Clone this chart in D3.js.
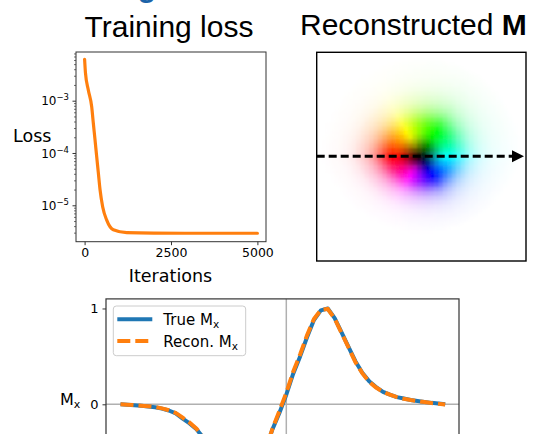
<!DOCTYPE html>
<html><head><meta charset="utf-8">
<script src="https://cdn.jsdelivr.net/npm/d3@7"></script>
<style>body{margin:0;background:#fff} svg{display:block}</style>
</head><body>
<svg id="c" width="538" height="434"></svg>
<script>
// ---------------- data ----------------
const lossIterations = [0, 25, 107, 205, 252, 301, 350, 397, 446, 524, 640, 831, 1219, 2000, 3000, 4000, 5000];
const lossValues = [6.2e-3, 3.4e-3, 1.6e-3, 7.7e-4, 3.75e-4, 1.8e-4, 8.5e-5, 4.2e-5, 2.0e-5, 9.3e-6, 5.2e-6, 3.4e-6, 3.0e-6, 2.93e-6, 2.92e-6, 2.92e-6, 2.92e-6];
const lossXTicks = [0, 2500, 5000];
const lossYTicks = [1e-3, 1e-4, 1e-5];
const lossYTickExps = ["\u22123", "\u22124", "\u22125"];

const profileIndex = d3.range(-24, 24);
const mxTrue = [0, -0.005, -0.01, -0.015, -0.022, -0.03, -0.045, -0.065, -0.095, -0.15, -0.20, -0.26,
  -0.35, -0.47, -0.62, -0.78, -0.92, -1.0, -0.97, -0.85, -0.68, -0.47, -0.26, -0.09,
  0.10, 0.32, 0.50, 0.70, 0.88, 0.98, 1.0, 0.90, 0.75, 0.60, 0.45, 0.33,
  0.24, 0.18, 0.13, 0.10, 0.075, 0.06, 0.045, 0.035, 0.025, 0.015, 0.008, 0.0];
const mxRecon = [0.0, -0.004, -0.008, -0.014, -0.02, -0.028, -0.042, -0.062, -0.09, -0.14, -0.19, -0.255,
  -0.345, -0.465, -0.615, -0.775, -0.915, -0.995, -0.97, -0.855, -0.685, -0.475, -0.255, -0.07,
  0.12, 0.34, 0.52, 0.72, 0.89, 0.985, 0.995, 0.895, 0.745, 0.595, 0.44, 0.325,
  0.235, 0.175, 0.13, 0.1, 0.075, 0.058, 0.044, 0.034, 0.024, 0.014, 0.006, -0.002];
const mxYTicks = [0, 1];
const legendLabels = ["True M", "Recon. M"];

// ---------------- drawing ----------------
const svg = d3.select("#c");
const FS = "'DejaVu Sans', sans-serif";
const TF = "'Liberation Sans', Arial, sans-serif";
const BLUE = "#1f77b4", ORANGE = "#ff7f0e";

// cropped glyph from a heading above
svg.append("text").attr("x", 147).attr("y", -3.5).attr("text-anchor", "middle")
  .attr("font-family", TF).attr("font-weight", "bold").attr("font-size", 30)
  .attr("fill", "#1c63a8").text("g");

// titles
svg.append("text").attr("x", 169).attr("y", 36.5).attr("text-anchor", "middle")
  .attr("font-family", TF).attr("font-size", 30).attr("fill", "#000").text("Training loss");
const t2 = svg.append("text").attr("x", 300).attr("y", 35)
  .attr("font-family", TF).attr("font-size", 30).attr("fill", "#000");
t2.append("tspan").text("Reconstructed ");
t2.append("tspan").attr("font-weight", "bold").text("M");

// ---- loss panel ----
const lx = d3.scaleLinear().domain([0, 5000]).range([84.6, 257.4]);
const ly = d3.scaleLog().domain([Math.pow(10, -5.696), Math.pow(10, -2.069)]).range([241.7, 52]);
const L = {x0: 76, x1: 266, y0: 52, y1: 241.7};

svg.append("clipPath").attr("id", "lclip").append("rect")
  .attr("x", L.x0).attr("y", L.y0).attr("width", L.x1 - L.x0).attr("height", L.y1 - L.y0);
svg.append("path").datum(lossIterations.map((d, i) => [d, lossValues[i]]))
  .attr("clip-path", "url(#lclip)")
  .attr("fill", "none").attr("stroke", ORANGE).attr("stroke-width", 3.2)
  .attr("stroke-linejoin", "round").attr("stroke-linecap", "round")
  .attr("d", d3.line().x(d => lx(d[0])).y(d => ly(d[1])).curve(d3.curveMonotoneX));

svg.append("rect").attr("x", L.x0).attr("y", L.y0).attr("width", L.x1 - L.x0).attr("height", L.y1 - L.y0)
  .attr("fill", "none").attr("stroke", "#333").attr("stroke-width", 1);

// x axis
const gx = svg.append("g").attr("transform", `translate(0,${L.y1})`)
  .call(d3.axisBottom(lx).tickValues(lossXTicks).tickSize(3.5).tickPadding(3).tickFormat(d3.format("d")));
gx.select(".domain").remove();
gx.selectAll("line").attr("stroke", "#333");
gx.selectAll("text").attr("font-family", FS).attr("font-size", 12.5).attr("fill", "#000");

// y axis major/minor
const minor = [];
for (let k = -6; k <= -2; k++) for (let d = 2; d <= 9; d++) {
  const v = d * Math.pow(10, k);
  if (v >= ly.domain()[0] && v <= ly.domain()[1]) minor.push(v);
}
const gym = svg.append("g").attr("transform", `translate(${L.x0},0)`)
  .call(d3.axisLeft(ly).tickValues(minor).tickSize(2).tickFormat(""));
gym.select(".domain").remove();
gym.selectAll("line").attr("stroke", "#333").attr("stroke-width", 0.7);
const gy = svg.append("g").attr("transform", `translate(${L.x0},0)`)
  .call(d3.axisLeft(ly).tickValues(lossYTicks).tickSize(3.5).tickFormat(""));
gy.select(".domain").remove();
gy.selectAll("line").attr("stroke", "#333");
lossYTicks.forEach((v, i) => {
  const t = svg.append("text").attr("x", 69).attr("y", ly(v) + 4.6).attr("text-anchor", "end")
    .attr("font-family", FS).attr("font-size", 12).attr("fill", "#000");
  t.append("tspan").text("10");
  t.append("tspan").attr("font-size", 8.5).attr("dy", -5).text(lossYTickExps[i]);
});
svg.append("text").attr("x", 170.5).attr("y", 282).attr("text-anchor", "middle")
  .attr("font-family", FS).attr("font-size", 17.5).attr("fill", "#000").text("Iterations");
svg.append("text").attr("x", 13).attr("y", 142)
  .attr("font-family", FS).attr("font-size", 17.5).attr("fill", "#000").text("Loss");

// ---- reconstructed M image ----
const N = 48;
const ix = d3.scaleLinear().domain([0, N]).range([316.7, 526]);
const iy = d3.scaleLinear().domain([0, N]).range([52.3, 261]);
// radial profiles of in-plane magnitude derived from the reconstructed Mx row
const rR = [0], mRv = [0], rL = [0], mLv = [0];
profileIndex.forEach((k, i) => { if (k >= 0) { rR.push(k + 0.52); mRv.push(mxRecon[i]); } });
for (let i = profileIndex.length - 1; i >= 0; i--) {
  const k = profileIndex[i];
  if (k < 0) { rL.push(-k - 0.52); mLv.push(-mxRecon[i]); }
}
const mRight = d3.scaleLinear().domain(rR).range(mRv).clamp(true);
const mLeft = d3.scaleLinear().domain(rL).range(mLv).clamp(true);
const lightIn = d3.scaleLinear().domain([0, 1]).range([0, 0.5]);
const lightOut = d3.scaleLinear().domain([0, 1]).range([1, 0.5]);
const cx = 23.98, cy = 24.0, rPeak = 6.5, lowerSquash = 0.3;
const cells = [];
for (let r = 0; r < N; r++) for (let c = 0; c < N; c++) {
  const dx = c + 0.5 - cx, dy = r + 0.5 - cy;
  const th = Math.atan2(dy, dx);
  const rad = Math.hypot(dx, dy) * (1 + lowerSquash * Math.max(0, Math.sin(th)));
  const w = (1 + Math.cos(th)) / 2;
  let m = w * mRight(rad) + (1 - w) * mLeft(rad);
  m = Math.max(0, Math.min(1, m));
  const light = rad < rPeak ? lightIn(m) : lightOut(m);
  const hue = (th * 180 / Math.PI + 180 + 360) % 360;
  cells.push({c, r, color: d3.hsl(hue, 1, light).formatHex()});
}
const defs = svg.append("defs");
defs.append("clipPath").attr("id", "iclip").append("rect")
  .attr("x", ix(0)).attr("y", iy(0)).attr("width", ix(N) - ix(0)).attr("height", iy(N) - iy(0));
defs.append("filter").attr("id", "soft").attr("x", "-5%").attr("y", "-5%").attr("width", "110%").attr("height", "110%")
  .append("feGaussianBlur").attr("stdDeviation", 0.9);
svg.append("g").attr("clip-path", "url(#iclip)").append("g").attr("filter", "url(#soft)")
  .selectAll("rect").data(cells).join("rect")
  .attr("x", d => ix(d.c)).attr("y", d => iy(d.r))
  .attr("width", d => ix(d.c + 1) - ix(d.c) + 0.4).attr("height", d => iy(d.r + 1) - iy(d.r) + 0.4)
  .attr("fill", d => d.color);
svg.append("rect").attr("x", ix(0)).attr("y", iy(0)).attr("width", ix(N) - ix(0)).attr("height", iy(N) - iy(0))
  .attr("fill", "none").attr("stroke", "#000").attr("stroke-width", 1.4);
const ay = iy(cy) - 0.3;
svg.append("line").attr("x1", ix(0)).attr("x2", ix(N) - 14).attr("y1", ay).attr("y2", ay)
  .attr("stroke", "#000").attr("stroke-width", 3).attr("stroke-dasharray", "8,4");
svg.append("path").attr("d", `M${ix(N) - 14},${ay - 6}L${ix(N) - 2},${ay}L${ix(N) - 14},${ay + 6}Z`).attr("fill", "#000");

// ---- Mx profile panel ----
const bx = d3.scaleLinear().domain([-26.1, 25.0]).range([106, 459]);
const by = d3.scaleLinear().domain([-1.1, 1.1]).range([509.7, 298.9]);
svg.append("line").attr("x1", bx(-26.1)).attr("x2", bx(25)).attr("y1", by(0)).attr("y2", by(0))
  .attr("stroke", "#b0b0b0").attr("stroke-width", 1.5);
svg.append("line").attr("x1", bx(0)).attr("x2", bx(0)).attr("y1", by(1.1)).attr("y2", by(-1.1))
  .attr("stroke", "#b0b0b0").attr("stroke-width", 1.5);
const pl = d3.line().x((d, i) => bx(profileIndex[i])).y(d => by(d));
svg.append("path").datum(mxTrue).attr("fill", "none").attr("stroke", BLUE).attr("stroke-width", 4)
  .attr("stroke-linejoin", "round").attr("d", pl);
svg.append("path").datum(mxRecon).attr("fill", "none").attr("stroke", ORANGE).attr("stroke-width", 4)
  .attr("stroke-dasharray", "13,5").attr("d", pl);
svg.append("rect").attr("x", bx(-26.1)).attr("y", by(1.1)).attr("width", bx(25) - bx(-26.1)).attr("height", by(-1.1) - by(1.1))
  .attr("fill", "none").attr("stroke", "#333").attr("stroke-width", 1.2);
const gb = svg.append("g").attr("transform", `translate(${bx(-26.1)},0)`)
  .call(d3.axisLeft(by).tickValues(mxYTicks).tickSize(3.5).tickPadding(4).tickFormat(d3.format("d")));
gb.select(".domain").remove();
gb.selectAll("line").attr("stroke", "#333");
gb.selectAll("text").attr("font-family", FS).attr("font-size", 13).attr("fill", "#000");
const mlab = svg.append("text").attr("x", 60).attr("y", 405).attr("font-family", FS).attr("font-size", 16).attr("fill", "#000");
mlab.append("tspan").text("M");
mlab.append("tspan").attr("font-size", 11).attr("dy", 3).text("x");

// legend
const lg = svg.append("g");
lg.append("rect").attr("x", 113.3).attr("y", 306).attr("width", 132.4).attr("height", 49.7).attr("rx", 3)
  .attr("fill", "#fff").attr("fill-opacity", 0.8).attr("stroke", "#cccccc").attr("stroke-width", 1);
const legendColors = [BLUE, ORANGE], legendDash = [null, "13,5"], legendY = [319.3, 341];
legendLabels.forEach((lab, i) => {
  lg.append("line").attr("x1", 117.3).attr("x2", 152.3).attr("y1", legendY[i]).attr("y2", legendY[i])
    .attr("stroke", legendColors[i]).attr("stroke-width", 4).attr("stroke-dasharray", legendDash[i]);
  const t = lg.append("text").attr("x", 163.3).attr("y", legendY[i] + 5.5)
    .attr("font-family", FS).attr("font-size", 15).attr("fill", "#000");
  t.append("tspan").text(lab);
  t.append("tspan").attr("font-size", 10.5).attr("dy", 3).text("x");
});
</script>
</body></html>
